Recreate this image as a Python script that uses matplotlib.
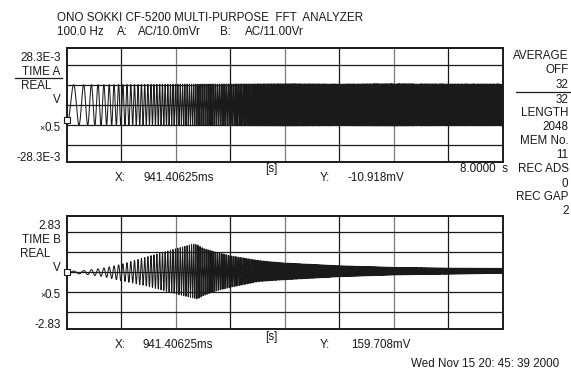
import numpy as np
import matplotlib
matplotlib.use("Agg")
import matplotlib.pyplot as plt
from matplotlib.lines import Line2D

# ---------------- data ----------------
n_samples = 2048            # LENGTH 2048
oversample = 4              # drawn with finer resolution for a solid trace
t_span = 8.0                # 8.0000 s
# sweep frequency of the excitation (Hz) read at two knots (linear sweep)
sweep_t = [0.0, 8.0]
sweep_f = [3.4, 78.9]
# channel A envelope (V)
a_env_t = [0.0, 1.0, 2.0, 3.0, 4.0, 5.0, 6.0, 7.0, 8.0]
a_env = [10.0e-3, 10.1e-3, 10.3e-3, 10.4e-3, 10.5e-3, 10.4e-3, 10.5e-3, 10.4e-3, 10.4e-3]
# channel B upper / lower envelope (V)
b_env_t = [0.0, 0.28, 0.65, 1.0, 1.5, 2.0, 2.32, 2.4, 2.5, 2.75, 3.0, 3.5, 3.73, 4.0, 5.0, 6.0, 7.0, 8.0]
b_up = [0.05, 0.08, 0.2, 0.4, 0.8, 1.18, 1.41, 1.38, 1.2, 1.0, 0.83, 0.6, 0.53, 0.47, 0.33, 0.25, 0.21, 0.2]
b_lo = [-0.05, -0.08, -0.2, -0.42, -0.7, -1.08, -1.28, -1.33, -1.17, -0.92, -0.75, -0.47, -0.42, -0.37, -0.22, -0.13, -0.09, -0.05]
phase0 = 0.257              # cycles
marker_a = -7.3e-3
marker_b = 0.0
ylim_a = 28.3e-3
ylim_b = 2.83
yticks_a = [-20e-3, -10e-3, 0.0, 10e-3, 20e-3]
yticks_b = [-2.0, -1.0, 0.0, 1.0, 2.0]
xticks = [0, 1, 2, 3, 4, 5, 6, 7, 8]

title1 = "ONO SOKKI CF-5200 MULTI-PURPOSE  FFT  ANALYZER"
right_panel = [("AVERAGE", 59.3), ("OFF", 73.3), ("32", 87.7), ("32", 102.7),
               ("LENGTH", 116), ("2048", 130), ("MEM No.", 144.3), ("11", 158.3),
               ("REC ADS", 171.7), ("0", 186.7), ("REC GAP", 200), ("2", 214.3)]

# ---------------- build signals ----------------
npts = n_samples * oversample
dt = t_span / npts
t = np.arange(npts) * dt
f_inst = np.interp(t, sweep_t, sweep_f)
cycles = np.concatenate([[0.0], np.cumsum(f_inst[:-1]) * dt])
carrier = np.sin(2 * np.pi * (cycles - phase0))
sig_a = np.interp(t, a_env_t, a_env) * carrier
up = np.interp(t, b_env_t, b_up)
lo = np.interp(t, b_env_t, b_lo)
sig_b = (up + lo) / 2 + (up - lo) / 2 * carrier

# ---------------- figure ----------------
W, H = 571, 369
plt.rcParams['font.family'] = ['Liberation Sans', 'DejaVu Sans']
fig = plt.figure(figsize=(W / 100, H / 100), dpi=100)
FS = 8.4
INK = '#1a1a1a'

def ax_rect(x0, y0, x1, y1):
    return [x0 / W, 1 - y1 / H, (x1 - x0) / W, (y1 - y0) / H]

def txt(x, y, s, ha='left', **kw):
    fig.text(x / W, 1 - y / H, s, ha=ha, va='baseline', fontsize=kw.pop('fontsize', FS),
             color=INK, **kw)

def hline(x0, x1, y):
    fig.add_artist(Line2D([x0 / W, x1 / W], [1 - y / H, 1 - y / H], color=INK, lw=0.9))

def style(ax, ylim, yticks):
    ax.set_xlim(0, t_span)
    ax.set_ylim(-ylim, ylim)
    for i, xv in enumerate(xticks[1:-1]):
        ax.axvline(xv, color=INK if (i % 2 == 0) else '#7a7a7a', lw=0.9, zorder=1)
    for yv in yticks:
        ax.axhline(yv, color=INK, lw=0.9, zorder=1)
    ax.set_xticks([]); ax.set_yticks([])
    for sp in ax.spines.values():
        sp.set_linewidth(1.4)
        sp.set_color(INK)

ax1 = fig.add_axes(ax_rect(66.7, 48, 503, 161.7))
style(ax1, ylim_a, yticks_a)
ax1.plot(t, sig_a, color=INK, lw=0.75, zorder=3)
ax1.plot([0], [marker_a], marker='s', ms=4.5, mfc='white', mec=INK, mew=0.8, zorder=4, clip_on=False)

ax2 = fig.add_axes(ax_rect(66.7, 215.7, 503, 329))
style(ax2, ylim_b, yticks_b)
ax2.plot(t, sig_b, color=INK, lw=0.75, zorder=3)
ax2.plot([0], [marker_b], marker='s', ms=4.5, mfc='white', mec=INK, mew=0.8, zorder=4, clip_on=False)

# header
txt(57.3, 20.7, title1)
txt(57.3, 34.7, "100.0 Hz")
txt(116.7, 34.7, "A:")
txt(138.3, 34.7, "AC/10.0mVr")
txt(220, 34.7, "B:")
txt(245, 34.7, "AC/11.00Vr")

# left labels, top
txt(60.5, 61, "28.3E-3", ha='right')
txt(60.5, 75, "TIME A", ha='right')
hline(14.7, 61.7, 77.8)
txt(20.7, 89.3, "REAL")
txt(60.5, 102.7, "V", ha='right')
txt(45.0, 131, "×", ha='right', fontsize=6.5)
txt(60.5, 131, "0.5", ha='right')
txt(60.5, 161, "-28.3E-3", ha='right')

# left labels, bottom
txt(60.5, 229, "2.83", ha='right')
txt(60.5, 242.7, "TIME B", ha='right')
txt(20.0, 256.7, "REAL")
txt(60.5, 270.7, "V", ha='right')
txt(45.5, 298.3, "×", ha='right', fontsize=6.5)
txt(60.5, 298.3, "0.5", ha='right')
txt(60.5, 327.7, "-2.83", ha='right')

# readouts, top
txt(115, 180.7, "X:")
txt(143.3, 180.7, "941.40625ms")
txt(265, 172, "[s]")
txt(320, 180.7, "Y:")
txt(348, 180.7, "-10.918mV")
txt(508, 171.7, "8.0000  s", ha='right')

# readouts, bottom
txt(115, 348.3, "X:")
txt(142.7, 348.3, "941.40625ms")
txt(265, 340, "[s]")
txt(320, 348.3, "Y:")
txt(350.7, 348.3, "159.708mV")
txt(559.3, 366.7, "Wed Nov 15 20: 45: 39 2000", ha='right')

# right panel
for s, yb in right_panel:
    txt(568.5, yb, s, ha='right')
hline(516, 570, 91.7)

fig.savefig("out.png", dpi=100)
